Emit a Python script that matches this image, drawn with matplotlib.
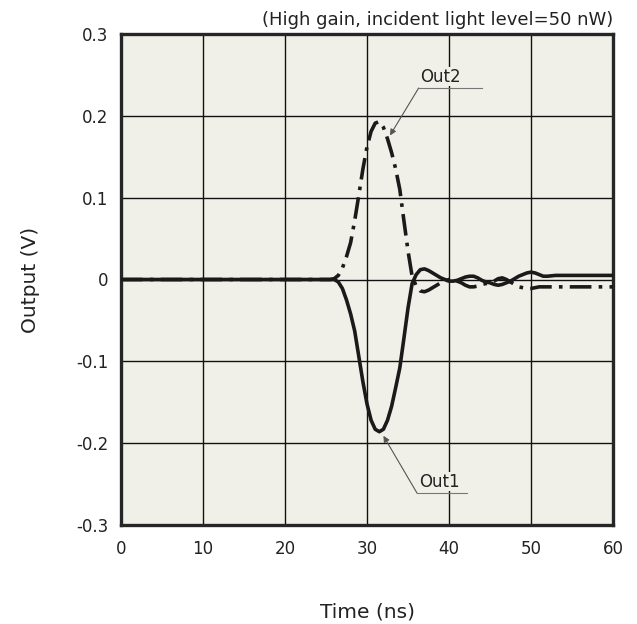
import numpy as np
import matplotlib
matplotlib.use('Agg')
import matplotlib.pyplot as plt

# data (time in ns, output in V)
t = [0, 25, 25.5, 26, 26.5, 27, 27.5, 28, 28.5, 29, 29.5, 30, 30.5, 31, 31.5,
     32, 32.5, 33, 33.5, 34, 34.5, 35, 35.5, 36, 36.5, 37, 37.5, 38, 38.5,
     39, 39.5, 40, 40.5, 41, 41.5, 42, 42.5, 43, 43.5, 44, 44.5, 45, 45.5,
     46, 46.5, 47, 47.5, 48, 48.5, 49, 49.5, 50, 50.5, 51, 51.5, 52, 53, 60]

out1 = [0, 0, 0, 0, -0.003, -0.011, -0.025, -0.042, -0.063, -0.094, -0.125,
        -0.152, -0.172, -0.183, -0.186, -0.183, -0.172, -0.155, -0.132, -0.108,
        -0.072, -0.035, -0.005, 0.006, 0.012, 0.013, 0.011, 0.008, 0.005,
        0.002, 0.0, -0.002, -0.002, -0.001, 0.001, 0.003, 0.004, 0.004, 0.002,
        -0.001, -0.003, -0.004, -0.006, -0.007, -0.006, -0.004, -0.002, 0.001,
        0.004, 0.006, 0.008, 0.009, 0.008, 0.006, 0.004, 0.004, 0.005, 0.005]

out2 = [0, 0, 0, 0.001, 0.005, 0.014, 0.028, 0.045, 0.072, 0.103, 0.135,
        0.162, 0.181, 0.191, 0.193, 0.186, 0.172, 0.155, 0.135, 0.110, 0.072,
        0.035, 0.004, -0.008, -0.014, -0.015, -0.013, -0.010, -0.007, -0.004,
        -0.002, 0.0, 0.0, -0.002, -0.004, -0.007, -0.009, -0.009, -0.008,
        -0.006, -0.005, -0.004, -0.002, 0.001, 0.002, 0.0, -0.003, -0.006,
        -0.009, -0.010, -0.011, -0.011, -0.010, -0.009, -0.009, -0.009,
        -0.009, -0.009]

xticks = [0, 10, 20, 30, 40, 50, 60]
yticks = [-0.3, -0.2, -0.1, 0, 0.1, 0.2, 0.3]
ytick_labels = ['-0.3', '-0.2', '-0.1', '0', '0.1', '0.2', '0.3']

bg = '#f1f0e8'
txt = '#222222'

fig = plt.figure(figsize=(6.37, 6.24), dpi=100)
ax = fig.add_axes([121 / 637, 1 - 525 / 624, (613 - 121) / 637, (525 - 34) / 624])
ax.set_facecolor(bg)

ax.plot(t, out1, color='#1a1a1a', lw=2.6, solid_capstyle='round', zorder=3)
ax.plot(t, out2, color='#1a1a1a', lw=2.6, dashes=(6, 2, 1, 2), zorder=3)

ax.set_xlim(0, 60)
ax.set_ylim(-0.3, 0.3)
ax.set_xticks(xticks)
ax.set_yticks(yticks)
ax.set_yticklabels(ytick_labels)
ax.tick_params(length=0, labelsize=12, colors=txt)
ax.tick_params(axis='x', pad=11)
ax.tick_params(axis='y', pad=9)
ax.grid(True, color='#111111', lw=1.0)
ax.set_axisbelow(True)
for s in ax.spines.values():
    s.set_linewidth(2.4)
    s.set_color('#262626')

ax.set_xlabel('Time (ns)', fontsize=14.5, labelpad=32, color=txt)
ax.set_ylabel('Output (V)', fontsize=14.5, labelpad=26, color=txt)
ax.text(1.0, 1.01, '(High gain, incident light level=50 nW)', transform=ax.transAxes,
        ha='right', va='bottom', fontsize=13, color=txt)

# labels with leader lines
arrow = dict(arrowstyle='-|>', color='#555555', lw=0.8, mutation_scale=9,
             shrinkA=0, shrinkB=0)
for name, tip, base, end in [('Out2', (32.8, 0.176), (36.3, 0.234), 44.0),
                             ('Out1', (32.0, -0.191), (36.1, -0.261), 42.2)]:
    ax.annotate('', xy=tip, xytext=base, arrowprops=arrow, zorder=4)
    ax.plot([base[0], end], [base[1], base[1]], color='#777777', lw=0.8, zorder=4)
    ax.text(base[0] + 0.2, base[1] + 0.003, name, fontsize=12, ha='left', va='bottom',
            color=txt, zorder=4,
            bbox=dict(facecolor=bg, edgecolor='none', pad=0.5))

fig.savefig('out.png', dpi=100, facecolor='white')
